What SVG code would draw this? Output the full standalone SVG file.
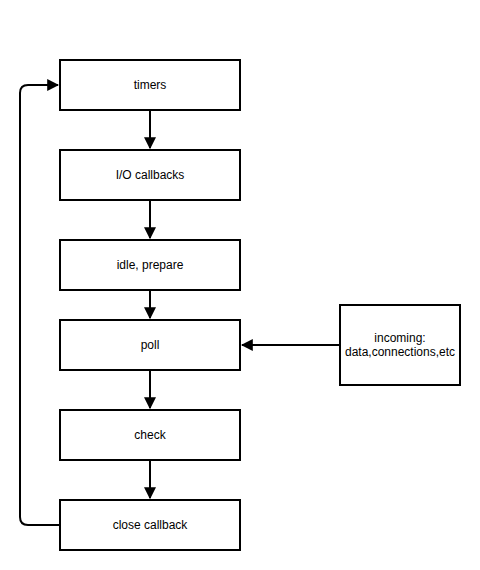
<svg xmlns="http://www.w3.org/2000/svg" width="480" height="570" viewBox="0 0 480 570">
<style>
.box{fill:#fff;stroke:#000;stroke-width:2}
.lbl{font-family:"Liberation Sans",Arial,sans-serif;font-size:12px;fill:#000;text-anchor:middle}
.edge{fill:none;stroke:#000;stroke-width:2}
</style>
<defs>
<marker id="ah" viewBox="0 0 10 10" refX="9" refY="5" markerWidth="6" markerHeight="6" markerUnits="strokeWidth" orient="auto">
<path d="M0,0 L10,5 L0,10 Z" fill="#000"/>
</marker>
</defs>
<rect width="480" height="570" fill="#fff"/>
<g id="connectors">
<path class="edge" d="M150,110 V148" marker-end="url(#ah)"/>
<path class="edge" d="M150,200 V238" marker-end="url(#ah)"/>
<path class="edge" d="M150,290 V318" marker-end="url(#ah)"/>
<path class="edge" d="M150,370 V408" marker-end="url(#ah)"/>
<path class="edge" d="M150,460 V498" marker-end="url(#ah)"/>
<path class="edge" d="M340,345 H242" marker-end="url(#ah)"/>
<path class="edge" d="M60,525 H28 Q20,525 20,517 V93 Q20,85 28,85 H58" marker-end="url(#ah)"/>
</g>
<g id="timers"><rect class="box" x="60" y="60" width="180" height="50"/><text class="lbl" x="150" y="89">timers</text></g>
<g id="io"><rect class="box" x="60" y="150" width="180" height="50"/><text class="lbl" x="150" y="179">I/O callbacks</text></g>
<g id="idle"><rect class="box" x="60" y="240" width="180" height="50"/><text class="lbl" x="150" y="269">idle, prepare</text></g>
<g id="poll"><rect class="box" x="60" y="320" width="180" height="50"/><text class="lbl" x="150" y="349">poll</text></g>
<g id="check"><rect class="box" x="60" y="410" width="180" height="50"/><text class="lbl" x="150" y="439">check</text></g>
<g id="close"><rect class="box" x="60" y="500" width="180" height="50"/><text class="lbl" x="150" y="529">close callback</text></g>
<g id="incoming"><rect class="box" x="340" y="305" width="120" height="80"/><text class="lbl" x="400" y="342">incoming:</text><text class="lbl" x="400" y="356">data,connections,etc</text></g>
</svg>
